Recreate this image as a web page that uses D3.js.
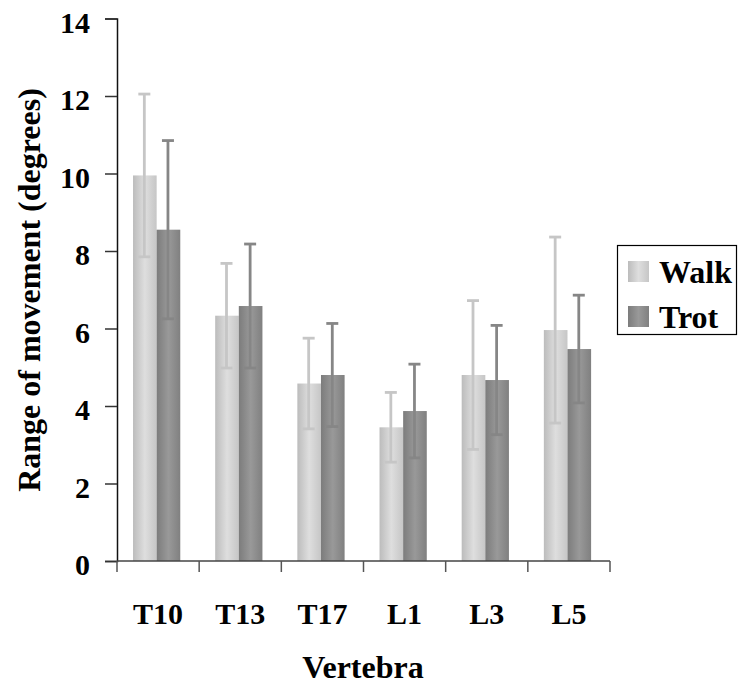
<!DOCTYPE html>
<html lang="en">
<head>
<meta charset="UTF-8">
<title>Range of movement</title>
<style>
	body { margin: 0; background: #fff; }
</style>
</head>
<body>
<svg id="chart" width="738" height="686"></svg>
<script src="https://cdn.jsdelivr.net/npm/d3@7"></script>
<script>
	// values
	let vertebrae = ["T10", "T13", "T17", "L1", "L3", "L5"];
	let series = ["Walk", "Trot"];
	let walkMean = [9.95, 6.33, 4.58, 3.45, 4.8, 5.96];
	let walkSd = [2.1, 1.35, 1.17, 0.9, 1.92, 2.4];
	let trotMean = [8.55, 6.58, 4.8, 3.87, 4.67, 5.47];
	let trotSd = [2.3, 1.6, 1.33, 1.21, 1.41, 1.39];
	let yTicks = [0, 2, 4, 6, 8, 10, 12, 14];

	let font = "'Liberation Serif', 'Times New Roman', Times, serif";
	let svg = d3.select("#chart");

	// bar fills, lighter in the middle like the original
	let defs = svg.append("defs");
	let fills = {
		Walk: ["#bcbcbc", "#dedede", "#c6c6c6"],
		Trot: ["#7c7c7c", "#999999", "#808080"]
	};
	let errColor = { Walk: "#c6c6c6", Trot: "#868686" };
	series.forEach(s => {
		let g = defs.append("linearGradient").attr("id", "grad" + s)
			.attr("x1", "0%").attr("x2", "100%").attr("y1", "0%").attr("y2", "0%");
		g.append("stop").attr("offset", "0%").attr("stop-color", fills[s][0]);
		g.append("stop").attr("offset", "50%").attr("stop-color", fills[s][1]);
		g.append("stop").attr("offset", "100%").attr("stop-color", fills[s][2]);
	});

	let data = vertebrae.map((v, i) => ({
		name: v,
		vals: [
			{ s: "Walk", m: walkMean[i], sd: walkSd[i] },
			{ s: "Trot", m: trotMean[i], sd: trotSd[i] }
		]
	}));

	let x0 = d3.scaleBand().domain(vertebrae).range([117, 610]).padding(0);
	let bw = x0.bandwidth();
	let x1 = d3.scaleBand().domain(series).range([bw * 0.195, bw * 0.77]).padding(0);
	let y = d3.scaleLinear().domain([0, 14]).range([561, 18.5]);

	// bars
	let groups = svg.append("g").selectAll("g")
		.data(data).enter().append("g")
		.attr("transform", d => "translate(" + x0(d.name) + ",0)");

	groups.selectAll("rect")
		.data(d => d.vals).enter().append("rect")
		.attr("x", d => x1(d.s))
		.attr("width", x1.bandwidth())
		.attr("y", d => y(d.m))
		.attr("height", d => y(0) - y(d.m))
		.attr("fill", d => "url(#grad" + d.s + ")");

	// error bars
	let err = groups.selectAll("g.err")
		.data(d => d.vals).enter().append("g").attr("class", "err")
		.attr("stroke", d => errColor[d.s])
		.attr("stroke-width", 2.8);
	let cx = d => x1(d.s) + x1.bandwidth() / 2 - 0.5;
	err.append("line")
		.attr("x1", cx).attr("x2", cx)
		.attr("y1", d => y(d.m + d.sd)).attr("y2", d => y(d.m - d.sd));
	err.append("line")
		.attr("x1", d => cx(d) - 6).attr("x2", d => cx(d) + 6)
		.attr("y1", d => y(d.m + d.sd)).attr("y2", d => y(d.m + d.sd));
	err.append("line")
		.attr("x1", d => cx(d) - 6).attr("x2", d => cx(d) + 6)
		.attr("y1", d => y(d.m - d.sd)).attr("y2", d => y(d.m - d.sd));

	// y axis
	let yAxis = d3.axisLeft(y).tickValues(yTicks).tickSize(12).tickPadding(16);
	let ya = svg.append("g").attr("transform", "translate(117,0)").call(yAxis);
	ya.attr("font-family", font).attr("font-weight", "bold").attr("font-size", 30);
	ya.select(".domain").attr("stroke", "#111").attr("stroke-width", 1.5);
	ya.selectAll(".tick line").attr("stroke", "#333").attr("stroke-width", 1.5);
	ya.selectAll(".tick text")
		.attr("x", -27)
		.attr("fill", "#000")
		.attr("dy", "0.45em");

	// x axis
	let xAxis = d3.axisBottom(x0).tickSize(0).tickPadding(0);
	let xa = svg.append("g").attr("transform", "translate(0,561)").call(xAxis);
	xa.attr("font-family", font).attr("font-weight", "bold").attr("font-size", 30);
	xa.select(".domain").remove();
	xa.append("line").attr("x1", 117).attr("x2", 610).attr("y1", 0).attr("y2", 0)
		.attr("stroke", "#444").attr("stroke-width", 1.5);
	// tick marks sit at the band edges
	xa.selectAll("line.edge")
		.data(vertebrae.concat(["end"])).enter().append("line").attr("class", "edge")
		.attr("x1", (d, i) => 117 + i * bw).attr("x2", (d, i) => 117 + i * bw)
		.attr("y1", 0).attr("y2", 11)
		.attr("stroke", "#555").attr("stroke-width", 1.5);
	xa.selectAll(".tick text")
		.attr("fill", "#000")
		.attr("y", 63).attr("dy", 0);

	// axis titles
	svg.append("text")
		.attr("x", 363).attr("y", 678)
		.attr("text-anchor", "middle")
		.attr("font-family", font).attr("font-weight", "bold").attr("font-size", 32)
		.text("Vertebra");
	svg.append("text")
		.attr("transform", "translate(40,290) rotate(-90)")
		.attr("text-anchor", "middle")
		.attr("font-family", font).attr("font-weight", "bold").attr("font-size", 32)
		.text("Range of movement (degrees)");

	// legend
	let legend = svg.append("g");
	legend.append("rect")
		.attr("x", 617.5).attr("y", 245.5).attr("width", 119).attr("height", 89)
		.attr("fill", "none").attr("stroke", "#000").attr("stroke-width", 1.2);
	let items = legend.selectAll("g.item")
		.data(series).enter().append("g").attr("class", "item")
		.attr("transform", (d, i) => "translate(628," + (261 + i * 45) + ")");
	items.append("rect")
		.attr("width", 21).attr("height", 21)
		.attr("fill", d => "url(#grad" + d + ")");
	items.append("text")
		.attr("x", 31).attr("y", 22)
		.attr("font-family", font).attr("font-weight", "bold").attr("font-size", 32)
		.text(d => d);
</script>
</body>
</html>
